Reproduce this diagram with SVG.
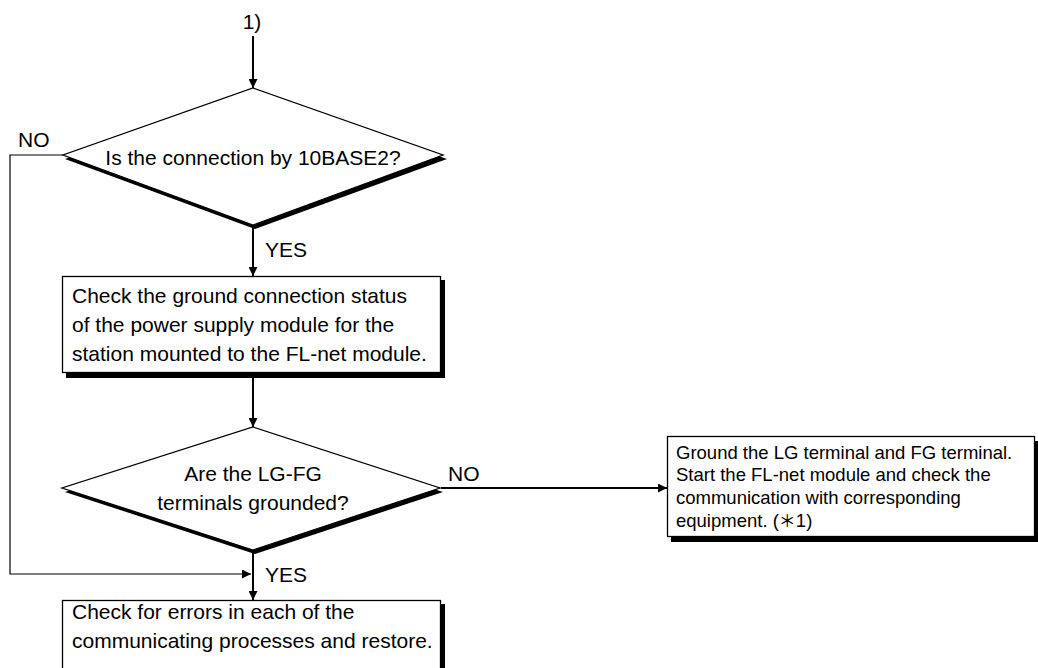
<svg xmlns="http://www.w3.org/2000/svg" width="1038" height="668" viewBox="0 0 1038 668">
<style>
text{font-family:"Liberation Sans",Arial,sans-serif;font-size:21px;fill:#000}
.s{font-size:18.5px}
.box{fill:#fff;stroke:#000;stroke-width:1.3}
.sh{fill:#000}
.ln{fill:none;stroke:#000;stroke-width:2}
.thin{fill:none;stroke:#000;stroke-width:1.2}
</style>
<defs>
<marker id="ah" viewBox="0 0 10 10" refX="10" refY="5" markerWidth="10" markerHeight="9" markerUnits="userSpaceOnUse" orient="auto">
<path d="M0,0 L10,5 L0,10 z" fill="#000"/>
</marker>
</defs>
<g id="start">
<text x="252" y="29" text-anchor="middle">1)</text>
</g>
<g id="connectors">
<line class="ln" x1="253" y1="36" x2="253" y2="88" marker-end="url(#ah)"/>
<line class="ln" x1="253" y1="227" x2="253" y2="276" marker-end="url(#ah)"/>
<line class="ln" x1="253" y1="377" x2="253" y2="427" marker-end="url(#ah)"/>
<line class="ln" x1="253" y1="552" x2="253" y2="600" marker-end="url(#ah)"/>
<line class="ln" x1="441" y1="488" x2="667" y2="488" marker-end="url(#ah)"/>
<polyline class="thin" points="63,155 10,155 10,574 251,574" marker-end="url(#ah)"/>
<text x="18" y="147">NO</text>
<text x="265" y="257">YES</text>
<text x="448" y="481">NO</text>
<text x="265" y="582">YES</text>
</g>
<g id="decision1">
<polygon class="sh" points="255,92 447,159 255,229 65,159"/>
<polygon class="box" points="253,88 443,155 253,225 63,155"/>
<text x="253" y="165" text-anchor="middle">Is the connection by 10BASE2?</text>
</g>
<g id="check-ground">
<rect class="sh" x="66" y="280" width="379" height="98"/>
<rect class="box" x="62.5" y="276.5" width="378" height="96"/>
<text x="72" y="303">Check the ground connection status</text>
<text x="72" y="332">of the power supply module for the</text>
<text x="72" y="361">station mounted to the FL-net module.</text>
</g>
<g id="decision2">
<polygon class="sh" points="255,431 443,492 255,554 65,492"/>
<polygon class="box" points="253,427 440,488 253,550 62,488"/>
<text x="253" y="481" text-anchor="middle">Are the LG-FG</text>
<text x="253" y="510" text-anchor="middle">terminals grounded?</text>
</g>
<g id="ground-terminals">
<rect class="sh" x="671" y="441" width="367" height="101"/>
<rect class="box" x="667.5" y="436.5" width="367" height="100"/>
<text class="s" x="676" y="459">Ground the LG terminal and FG terminal.</text>
<text class="s" x="676" y="481">Start the FL-net module and check the</text>
<text class="s" x="676" y="504">communication with corresponding</text>
<text class="s" x="676" y="527">equipment. (<tspan font-family="'Noto Sans CJK JP',sans-serif" font-size="17">＊</tspan>1)</text>
</g>
<g id="check-errors">
<rect class="sh" x="66" y="604" width="379" height="70"/>
<rect class="box" x="62.5" y="600.5" width="378" height="70"/>
<text x="72" y="619">Check for errors in each of the</text>
<text x="72" y="648">communicating processes and restore.</text>
</g>
</svg>
